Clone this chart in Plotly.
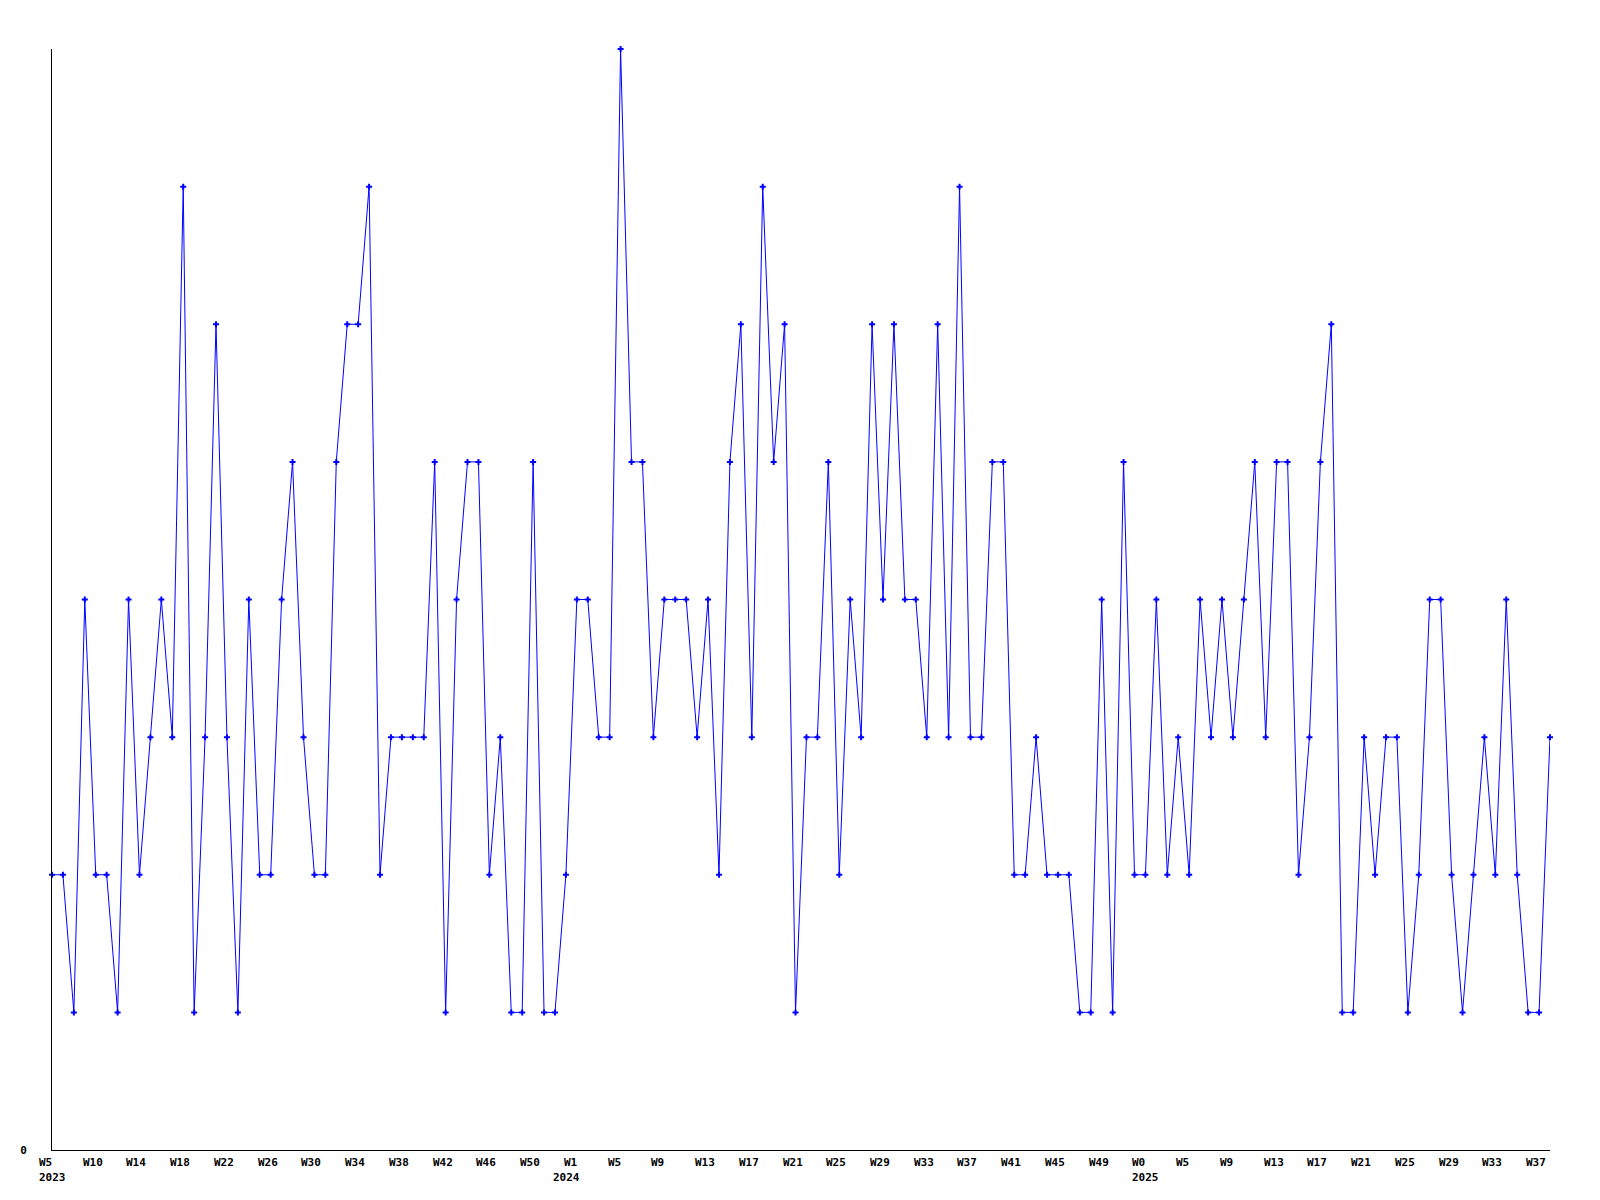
import plotly.graph_objects as go

# Weekly counts (2023 W5 .. 2025 W37)
values = [2, 2, 1, 4, 2, 2, 1, 4, 2, 3, 4, 3, 7, 1, 3, 6, 3, 1, 4, 2,
          2, 4, 5, 3, 2, 2, 5, 6, 6, 7, 2, 3, 3, 3, 3, 5, 1, 4, 5, 5,
          2, 3, 1, 1, 5, 1, 1, 2, 4, 4, 3, 3, 8, 5, 5, 3, 4, 4, 4, 3,
          4, 2, 5, 6, 3, 7, 5, 6, 1, 3, 3, 5, 2, 4, 3, 6, 4, 6, 4, 4,
          3, 6, 3, 7, 3, 3, 5, 5, 2, 2, 3, 2, 2, 2, 1, 1, 4, 1, 5, 2,
          2, 4, 2, 3, 2, 4, 3, 4, 3, 4, 5, 3, 5, 5, 2, 3, 5, 6, 1, 1,
          3, 2, 3, 3, 1, 2, 4, 4, 2, 1, 2, 3, 2, 4, 2, 1, 1, 3]
weeks = list(range(len(values)))

# Week tick labels (positions in week index units)
tick_pos = [0, 4, 8, 12, 16, 20, 24, 28, 32, 36, 40, 44,
            48, 52, 56, 60, 64, 68, 72, 76, 80, 84, 88, 92, 96,
            100, 104, 108, 112, 116, 120, 124, 128, 132, 136]
tick_labels = ["W5", "W10", "W14", "W18", "W22", "W26", "W30", "W34", "W38", "W42", "W46", "W50",
               "W1", "W5", "W9", "W13", "W17", "W21", "W25", "W29", "W33", "W37", "W41", "W45", "W49",
               "W0", "W5", "W9", "W13", "W17", "W21", "W25", "W29", "W33", "W37"]
year_pos = [0, 47, 100]
year_labels = ["2023", "2024", "2025"]

FONT = dict(family="DejaVu Sans Mono", size=11, color="black")

fig = go.Figure(go.Scatter(
    x=weeks, y=values, mode="lines+markers",
    line=dict(color="#0000ff", width=1),
    marker=dict(symbol="cross", size=5, color="#0000ff", line=dict(width=0)),
    cliponaxis=False, hoverinfo="x+y",
))

annotations = []
for p, t in zip(tick_pos, tick_labels):
    annotations.append(dict(x=p, xref="x", y=0, yref="paper", xanchor="left", yanchor="middle",
                            xshift=-15, yshift=-12, text="<b>%s</b>" % t, showarrow=False,
                            font=FONT, align="left"))
for p, t in zip(year_pos, year_labels):
    annotations.append(dict(x=p, xref="x", y=0, yref="paper", xanchor="left", yanchor="middle",
                            xshift=-15, yshift=-27, text="<b>%s</b>" % t, showarrow=False,
                            font=FONT, align="left"))

fig.update_layout(
    width=1600, height=1200,
    margin=dict(l=42, r=58, t=41, b=58),
    paper_bgcolor="white", plot_bgcolor="white",
    showlegend=False,
    annotations=annotations,
    xaxis=dict(range=[0, len(values) - 1], showgrid=False, zeroline=False,
               showline=True, linecolor="black", linewidth=1,
               showticklabels=False, ticks=""),
    yaxis=dict(range=[0, 8], showgrid=False, zeroline=False,
               showline=True, linecolor="black", linewidth=1,
               tickvals=[0], ticktext=["<b>0</b>"], ticks="outside", ticklen=22,
               tickcolor="rgba(0,0,0,0)", tickfont=FONT),
)

fig.write_html("out.html")
